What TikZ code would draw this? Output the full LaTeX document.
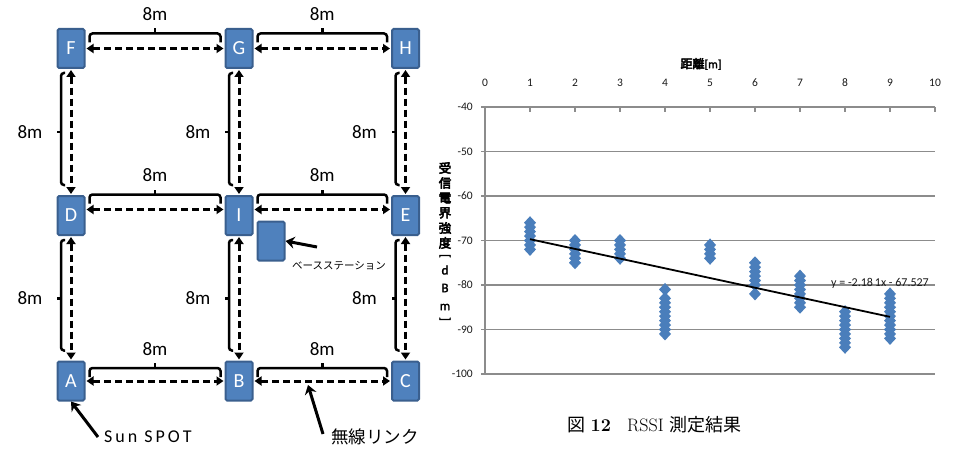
\documentclass[tikz,border=0pt]{standalone}
\usepackage{fontspec}
\usepackage{graphicx}
\newfontfamily\carl{Carlito}
\newfontfamily\cjk{Noto Sans CJK JP}
\newfontfamily\cjkb[FakeBold=4]{Noto Sans CJK JP}
\newfontfamily\carlb[FakeBold=2]{Carlito}
\usetikzlibrary{arrows.meta,calc}
\definecolor{boxblue}{HTML}{4F81BD}
\definecolor{boxedge}{HTML}{3A5F8E}
\definecolor{ptblue}{HTML}{4A7EBB}
\definecolor{gridgray}{HTML}{8C8C8C}
\definecolor{txt}{HTML}{1A1A1A}
\newcommand{\hbrk}[4]{%
  \coordinate (#4m) at ($(#1.east)!0.5!(#2.west)$);
  \draw[brk,rounded corners=3pt] ($(#1.east)+(4,#3-6)$) |- ($(#4m)+(0,#3-15)$) -| ($(#2.west)+(-4,#3-6)$);
  \draw[brk] ($(#4m)+(0,#3-15)$) -- ++(0,-5);
  \node[lbl] (#4) at ($(#4m)+(0,#3-34)$) {8m};
}
\newcommand{\vbrk}[3]{%
  \coordinate (#3m) at ($(#1.south)!0.5!(#2.north)$);
  \draw[brk,rounded corners=3pt] ($(#1.south)+(-6,4)$) -| ($(#3m)+(-10,0)$) |- ($(#2.north)+(-6,-10)$);
  \draw[brk] ($(#3m)+(-10,0)$) -- ++(-4,0);
  \node[lbl] (#3) at ($(#3m)+(-41,0)$) {8m};
}
\begin{document}
\begin{tikzpicture}[x=1pt,y=-1pt,
  box/.style={draw=boxedge,fill=boxblue,line width=2pt,rounded corners=1.5pt,minimum width=27pt,minimum height=39pt,inner sep=0pt,text=white,font=\carl\fontsize{20}{20}\selectfont},
  link/.style={line width=3pt,dash pattern=on 7pt off 4pt,{Triangle[width=9pt,length=7pt]}-{Triangle[width=9pt,length=7pt]},shorten <=1pt,shorten >=1pt},
  brk/.style={line width=2.5pt,black},
  lbl/.style={font=\carl\fontsize{19}{20}\selectfont,inner sep=0pt},
  ptr/.style={line width=3pt,-{Stealth[width=12pt,length=9pt,inset=3pt]}},
  grid/.style={gridgray,line width=1.6pt},
  tick/.style={font=\carl\fontsize{11.5}{12}\selectfont,text=txt,inner sep=0pt},
  ylab/.style={font=\cjkb\fontsize{12.5}{12}\selectfont,inner sep=0pt},
  ylatin/.style={font=\carlb\fontsize{13}{12}\selectfont,inner sep=0pt},
  pt/.style={fill=ptblue}
]
\useasboundingbox (0,0) rectangle (957,449);
% nodes
\node[box] (F) at (71,48.5) {F};
\node[box] (G) at (239,48.5) {G};
\node[box] (H) at (405.5,48.5) {H};
\node[box] (D) at (71,215.5) {D};
\node[box] (I) at (239,215.5) {I};
\node[box] (E) at (405.5,215.5) {E};
\node[box] (A) at (71,381) {A};
\node[box] (B) at (239,381) {B};
\node[box] (C) at (405.5,381) {C};
\node[box] (base) at (271,241) {};
% links
\draw[link] (F) -- (G);
\draw[link] (G) -- (H);
\draw[link] ([yshift=6pt]D.east) -- ([yshift=6pt]I.west);
\draw[link] ([yshift=6pt]I.east) -- ([yshift=6pt]E.west);
\draw[link] (A) -- (B);
\draw[link] (B) -- (C);
\draw[link] (F) -- (D);
\draw[link] (D) -- (A);
\draw[link] (G) -- (I);
\draw[link] (I) -- (B);
\draw[link] (H) -- (E);
\draw[link] (E) -- (C);
% dimensions
\hbrk{F}{G}{0}{dFG}
\hbrk{G}{H}{0}{dGH}
\hbrk{D}{I}{-6}{dDI}
\hbrk{I}{E}{-6}{dIE}
\hbrk{A}{B}{2}{dAB}
\hbrk{B}{C}{2}{dBC}
\vbrk{F}{D}{dFD}
\vbrk{D}{A}{dDA}
\vbrk{G}{I}{dGI}
\vbrk{I}{B}{dIB}
\vbrk{H}{E}{dHE}
\vbrk{E}{C}{dEC}
% annotations
\node[font=\cjk\fontsize{10.5}{11}\selectfont,anchor=west,inner sep=0pt] (baselbl) at (292,266) {ベースステーション};
\coordinate (basefrom) at (317,247);
\draw[ptr] (basefrom) -- (base.east);
\node[font=\carl\fontsize{18}{20}\selectfont,anchor=west,inner sep=0pt] (sun) at (104,437) {S\,u\,n \,S\,P\,O\,T};
\draw[ptr] ([xshift=-6pt]sun.west) -- (A.south);
\node[font=\cjk\fontsize{17.5}{18}\selectfont,anchor=west,inner sep=0pt] (musen) at (331,437) {無線リンク};
\coordinate (musento) at (308,385);
\draw[ptr] (323,434) -- (musento);
% chart
\foreach \v in {-50,-60,-70,-80,-90,-100}
  \draw[grid] (481,{107+4.45*(-40-\v)}) -- (935,{107+4.45*(-40-\v)});
\draw[grid] (481,107) -- (935,107);
\foreach \i in {1,...,10} \draw[grid] ({485+45*\i},107) -- ++(0,5);
\draw[grid] (485,107) -- (485,374);
\foreach \i in {0,...,10} \node[tick] (tx\i) at ({485+45*\i},83) {\i};
\foreach \v in {-40,-50,-60,-70,-80,-90,-100}
  \node[tick,anchor=east] (ty\v) at (473,{107+4.45*(-40-\v)}) {\v};
\node[font=\cjkb\fontsize{12}{12}\selectfont,inner sep=0pt] (xtitle) at (701,64) {距離{\carlb[m]}};
% y title
\node[ylab] (y1) at (445,168) {受};
\node[ylab] (y2) at (445,183) {信};
\node[ylab] (y3) at (445,198) {電};
\node[ylab] (y4) at (445,213) {界};
\node[ylab] (y5) at (445,228) {強};
\node[ylab] (y6) at (445,243) {度};
\node[ylatin] (y7) at (445,256) {\rotatebox{-90}{[}};
\node[ylatin] (y8) at (445,270) {d};
\node[ylatin] (y9) at (445,288) {B};
\node[ylatin] (y10) at (445,307) {m};
\node[ylatin] (y11) at (445,319) {\rotatebox{-90}{]}};
% data
\foreach \x/\lo/\hi in {1/-72/-66,2/-75/-70,3/-74/-70,4/-91/-83,4/-81/-81,5/-74/-71,6/-80/-75,6/-82/-82,7/-85/-78,8/-94/-86,9/-92/-82}{
  \foreach \v in {\lo,...,\hi}
    \fill[pt] ({485+45*\x-6},{107+4.45*(-40-\v)}) -- ++(6,-6.5) -- ++(6,6.5) -- ++(-6,6.5) -- cycle;
}
\draw[line width=1.8pt,black] ({485+45},{107+4.45*(-40+69.708)}) -- ({485+405},{107+4.45*(-40+87.156)});
\node[tick,font=\carl\fontsize{12}{12}\selectfont] (eq) at (880,283) {y = -2.18\,1x - 67.527};
% caption
\node[inner sep=0pt,anchor=west] (cap) at (567,425) {\fontsize{18}{20}\selectfont{\cjk 図} \textbf{12}\hspace{0.9em}RSSI {\cjk 測定結果}};
\end{tikzpicture}
\end{document}
